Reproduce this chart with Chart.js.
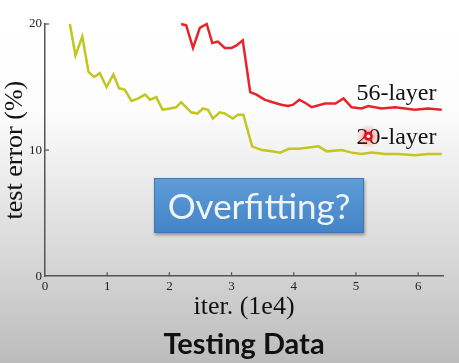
<!DOCTYPE html>
<html>
<head>
<meta charset="utf-8">
<script src="https://cdn.jsdelivr.net/npm/chart.js@4/dist/chart.umd.min.js"></script>
<style>
  html, body { margin: 0; padding: 0; }
  #wrap {
    position: relative;
    width: 459px;
    height: 363px;
    overflow: hidden;
    background: linear-gradient(to bottom, #ffffff 0%, #fdfdfd 30%, #e6e6e6 55%, #cfcfcf 80%, #bcbcbc 100%);
  }
  #errorChart { position: absolute; left: 0; top: 0; }
  #note {
    position: absolute;
    left: 154px;
    top: 178px;
    width: 210px;
    height: 55px;
    box-sizing: border-box;
    background: linear-gradient(to bottom, #5e9dd8, #4483c6);
    border: 1px solid #3f78b5;
    box-shadow: 1px 2px 3px rgba(0,0,0,0.35);
    color: #eef4fa;
    font-family: Lato, "Open Sans", sans-serif;
    font-size: 35px;
    line-height: 52px;
    text-align: center;
  }
</style>
</head>
<body>
<div id="wrap">
  <canvas id="errorChart" width="459" height="363"></canvas>
  <div id="note">Overfitting?</div>
</div>
<script>
// 20-layer plain net, test error (%) vs iterations (1e4)
const iter20 = [0.40, 0.49, 0.60, 0.70, 0.79, 0.88, 0.99, 1.10, 1.19, 1.28, 1.39, 1.50, 1.61, 1.69, 1.79, 1.89,
    2.01, 2.11, 2.19, 2.35, 2.45, 2.54, 2.62, 2.70, 2.81, 2.89, 3.02, 3.10, 3.19, 3.33, 3.49, 3.65, 3.78, 3.92,
    4.08, 4.24, 4.40, 4.53, 4.77, 4.93, 5.09, 5.25, 5.47, 5.68, 5.95, 6.16, 6.38];
const err20 = [20.0, 17.5, 19.0, 16.2, 15.8, 16.1, 15.0, 16.0, 14.9, 14.8, 13.9, 14.1, 14.4, 14.0, 14.2, 13.2,
    13.3, 13.4, 13.8, 13.0, 12.9, 13.3, 13.2, 12.5, 13.0, 12.9, 12.5, 12.8, 12.8, 10.3, 10.0, 9.9, 9.8, 10.1,
    10.1, 10.2, 10.3, 9.9, 10.0, 9.8, 9.7, 9.8, 9.7, 9.7, 9.6, 9.7, 9.7];

// 56-layer plain net
const iter56 = [2.19, 2.27, 2.38, 2.49, 2.60, 2.69, 2.78, 2.89, 3.00, 3.08, 3.18, 3.30, 3.40, 3.53, 3.66, 3.80,
    3.91, 3.99, 4.09, 4.20, 4.29, 4.50, 4.67, 4.80, 4.93, 5.09, 5.20, 5.41, 5.63, 5.95, 6.16, 6.38];
const err56 = [20.0, 19.9, 18.1, 19.7, 20.0, 18.5, 18.6, 18.1, 18.1, 18.3, 18.7, 14.6, 14.4, 14.0, 13.8, 13.6,
    13.5, 13.6, 14.0, 13.7, 13.4, 13.7, 13.7, 14.1, 13.4, 13.3, 13.5, 13.3, 13.4, 13.2, 13.3, 13.2];

const seriesNames = ["56-layer", "20-layer"];
const xTicks = [0, 1, 2, 3, 4, 5, 6];
const yTicks = [0, 10, 20];

// where the series names sit (data units) and the laser pointer dot
const labelAt = [[5.01, 14.5], [5.01, 10.95]];
const pointerAt = [5.2, 11.1];

function toPoints(xs, ys) {
    return xs.map(function (x, i) { return { x: x, y: ys[i] }; });
}

// small inward tick marks, series names, pointer dot
const decorations = {
    id: "decorations",
    afterDraw: function (chart) {
        let ctx = chart.ctx;
        let xs = chart.scales.x;
        let ys = chart.scales.y;
        ctx.save();
        ctx.strokeStyle = "#555";
        ctx.lineWidth = 1.2;
        xTicks.forEach(function (v) {
            if (v === 0) return;
            let px = xs.getPixelForValue(v);
            ctx.beginPath();
            ctx.moveTo(px, ys.bottom);
            ctx.lineTo(px, ys.bottom - 4);
            ctx.stroke();
        });
        yTicks.forEach(function (v) {
            if (v === 0) return;
            let py = ys.getPixelForValue(v);
            ctx.beginPath();
            ctx.moveTo(xs.left, py);
            ctx.lineTo(xs.left + 4, py);
            ctx.stroke();
        });

        ctx.fillStyle = "#111";
        ctx.font = "24px 'Liberation Serif', serif";
        ctx.textBaseline = "middle";
        ctx.textAlign = "left";
        seriesNames.forEach(function (name, i) {
            ctx.fillText(name, xs.getPixelForValue(labelAt[i][0]), ys.getPixelForValue(labelAt[i][1]));
        });

        let dx = xs.getPixelForValue(pointerAt[0]);
        let dy = ys.getPixelForValue(pointerAt[1]);
        let glow = ctx.createRadialGradient(dx, dy, 0, dx, dy, 12);
        glow.addColorStop(0, "rgba(255,60,60,0.55)");
        glow.addColorStop(1, "rgba(255,60,60,0)");
        ctx.fillStyle = glow;
        ctx.beginPath();
        ctx.arc(dx, dy, 12, 0, Math.PI * 2);
        ctx.fill();
        ctx.fillStyle = "#e8101a";
        ctx.beginPath();
        ctx.arc(dx, dy, 4.5, 0, Math.PI * 2);
        ctx.fill();
        ctx.fillStyle = "#fff";
        ctx.beginPath();
        ctx.arc(dx, dy, 1.8, 0, Math.PI * 2);
        ctx.fill();
        ctx.restore();
    }
};

let ctx = document.getElementById("errorChart").getContext("2d");

new Chart(ctx, {
    type: "line",
    data: {
        datasets: [{
            label: seriesNames[0],
            data: toPoints(iter56, err56),
            borderColor: "#e8232a",
            borderWidth: 2.5,
            pointRadius: 0,
            tension: 0,
            clip: 5,
            fill: false
        }, {
            label: seriesNames[1],
            data: toPoints(iter20, err20),
            borderColor: "#c3c61e",
            borderWidth: 2.5,
            pointRadius: 0,
            tension: 0,
            clip: 5,
            fill: false
        }]
    },
    options: {
        responsive: false,
        animation: false,
        layout: {
            padding: { top: 24, right: 16, left: 0, bottom: 0 }
        },
        plugins: {
            legend: { display: false },
            tooltip: { enabled: false },
            title: {
                display: true,
                text: "Testing Data",
                position: "bottom",
                fullSize: false,
                color: "#111",
                font: { family: "Lato", size: 29, weight: "bold" },
                padding: { top: 0, bottom: 1 }
            }
        },
        scales: {
            x: {
                type: "linear",
                min: 0,
                max: 6.4,
                afterFit: function (scale) { scale.height = 51; },
                afterBuildTicks: function (scale) {
                    scale.ticks = xTicks.map(function (v) { return { value: v }; });
                },
                ticks: {
                    color: "#222",
                    padding: 3,
                    font: { family: "Liberation Serif", size: 13 }
                },
                grid: { drawOnChartArea: false, drawTicks: false },
                border: { color: "#555", width: 1.5 },
                title: {
                    display: true,
                    text: "iter. (1e4)",
                    color: "#111",
                    font: { family: "Liberation Serif", size: 26 },
                    padding: { top: 0, bottom: 4 }
                }
            },
            y: {
                min: 0,
                max: 20,
                afterFit: function (scale) { scale.width = 45; },
                afterBuildTicks: function (scale) {
                    scale.ticks = yTicks.map(function (v) { return { value: v }; });
                },
                ticks: {
                    color: "#222",
                    padding: 3,
                    font: { family: "Liberation Serif", size: 13 }
                },
                grid: { drawOnChartArea: false, drawTicks: false },
                border: { color: "#555", width: 1.5 },
                title: {
                    display: true,
                    text: "test error (%)",
                    color: "#111",
                    font: { family: "Liberation Serif", size: 26 },
                    padding: 0
                }
            }
        }
    },
    plugins: [decorations]
});
</script>
</body>
</html>
